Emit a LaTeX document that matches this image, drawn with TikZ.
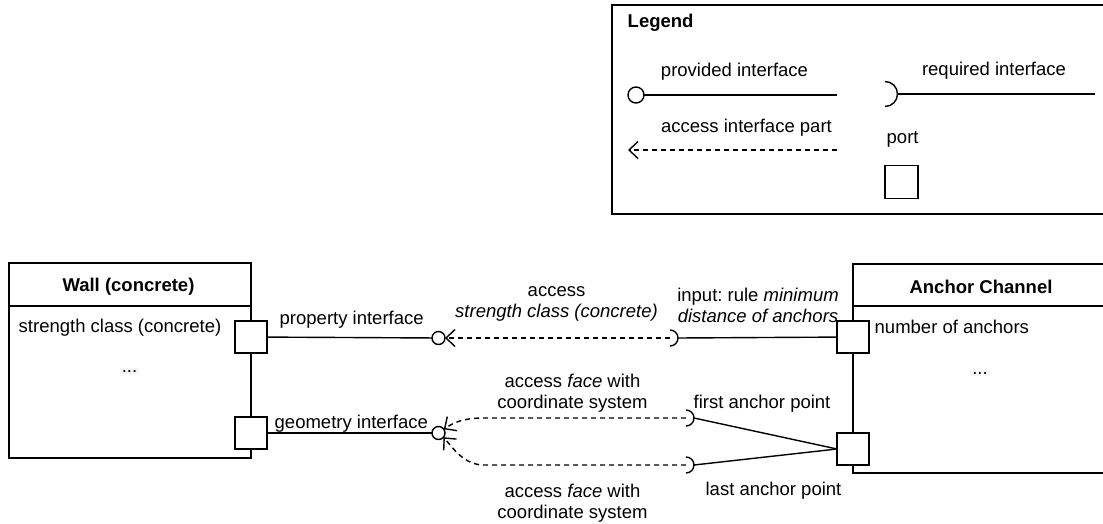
\documentclass[tikz,border=0pt]{standalone}
\usepackage{fontspec}
\setmainfont{Liberation Sans}
\usetikzlibrary{arrows.meta}
\frenchspacing
\begin{document}
\begin{tikzpicture}[x=1pt,y=-1pt,line width=1.4pt,
  font=\fontsize{18.5}{20.5}\selectfont,
  box/.style={draw,outer sep=0pt,inner sep=0pt,anchor=north west},
  port/.style={draw,fill=white,minimum size=32pt,inner sep=0pt,outer sep=0pt},
  prov/.style={draw,fill=white,circle,minimum size=13pt,inner sep=0pt,outer sep=0pt},
  lbl/.style={inner sep=0pt,anchor=base},
  lblw/.style={inner sep=0pt,anchor=base west},
  dots/.style={inner sep=2pt,anchor=base,fill=black!4},
  access/.style={dash pattern=on 5pt off 4pt,-{Straight Barb[length=9pt,width=17pt,line width=1.4pt]}},
]
\useasboundingbox (0,0) rectangle (1103,524);
\clip (0,0) rectangle (1103,524);

% ---------- Legend ----------
\node[box,minimum width=540pt,minimum height=209pt] (legend) at (612,5) {};
\node[lblw,font=\fontsize{18.5}{20.5}\selectfont\bfseries] (legendt) at (627,28) {Legend};
\node[prov,minimum size=16pt] (lc) at (636,95) {};
\coordinate (lce) at (837,95);
\draw (lc) -- (lce);
\node[lbl] (lct) at (734.5,77) {provided interface};
\coordinate (lr) at (885,94);
\coordinate (lre) at (1095,94);
\draw ([yshift=12.5pt]lr) arc[start angle=90,end angle=-90,radius=12.5pt];
\draw ([xshift=12.5pt]lr) -- (lre);
\node[lbl] (lrt) at (994,76) {required interface};
\coordinate (la1) at (837,150);
\coordinate (la2) at (628,150);
\draw[access] (la1) -- (la2);
\node[lbl] (lat) at (746.5,132) {access interface part};
\node[lblw] (lpt) at (886,144) {port};
\node[port,minimum size=33pt] (lp) at (901.5,182) {};

% ---------- Wall ----------
\node[box,minimum width=242pt,minimum height=195pt] (wall) at (9,263) {};
\draw ([yshift=-43pt]wall.north west) -- ([yshift=-43pt]wall.north east);
\node[lbl,font=\fontsize{18.5}{20.5}\selectfont\bfseries] (wallt) at (128.5,291) {Wall (concrete)};
\node[lblw] (walls) at (18,332) {strength class (concrete)};
\node[dots] (walld) at (129.5,372) {...};
\node[port] (wp1) at (251,337) {};
\node[port] (wp2) at (251,433) {};

% ---------- Anchor Channel ----------
\node[box,minimum width=300pt,minimum height=209pt] (anchor) at (853,264) {};
\draw ([yshift=-42pt]anchor.north west) -- ([yshift=-42pt]anchor.north east);
\node[lbl,font=\fontsize{18.5}{20.5}\selectfont\bfseries] (anchort) at (981,293) {Anchor Channel};
\node[lblw] (anchorn) at (874,333) {number of anchors};
\node[dots] (anchord) at (980,374) {...};
\node[port] (ap1) at (853,337) {};
\node[port] (ap2) at (853,449) {};

% ---------- provided interfaces ----------
\node[prov] (c1) at (438.5,338) {};
\node[prov] (c2) at (438.5,433) {};
\draw (wp1) -- (c1);
\draw (wp2) -- (c2);
\node[lblw] (pit) at (279,324) {property interface};
\node[lblw] (git) at (274,428) {geometry interface};

% ---------- required interfaces ----------
\coordinate (r1) at (670,338);
\coordinate (r2) at (686,418);
\coordinate (r3) at (686,465);
\draw ([yshift=8pt]r1) arc[start angle=90,end angle=-90,radius=8pt];
\draw ([yshift=8pt]r2) arc[start angle=90,end angle=-90,radius=8pt];
\draw ([yshift=8pt]r3) arc[start angle=90,end angle=-90,radius=8pt];
\draw ([xshift=8pt]r1) -- (ap1);
\draw ([xshift=8pt]r2) -- (ap2.west);
\draw ([xshift=8pt]r3) -- (ap2.west);

% ---------- access connectors ----------
\coordinate (k2) at (484,418);
\coordinate (k3) at (484,465);
\draw[access] (r1) -- (c1);
\draw[access] (r2) -- (k2) .. controls (462,418) and (453,423) .. (c2.35);
\draw[access] (r3) -- (k3) .. controls (464,465) and (453,448) .. (c2.-40);

% ---------- labels (base = last line) ----------
\node[lbl,align=center] (acc1) at (556.5,317) {access\\\textit{strength class (concrete)}};
\node[lbl,align=center] (inp) at (758,322) {input: rule \textit{minimum}\\\textit{distance of anchors}};
\node[lbl,align=center] (acc2) at (572.5,408) {access \textit{face} with\\coordinate system};
\node[lbl] (fap) at (762,408) {first anchor point};
\node[lbl] (lap) at (773.5,495) {last anchor point};
\node[lbl,align=center] (acc3) at (572.5,518) {access \textit{face} with\\coordinate system};
\end{tikzpicture}
\end{document}
